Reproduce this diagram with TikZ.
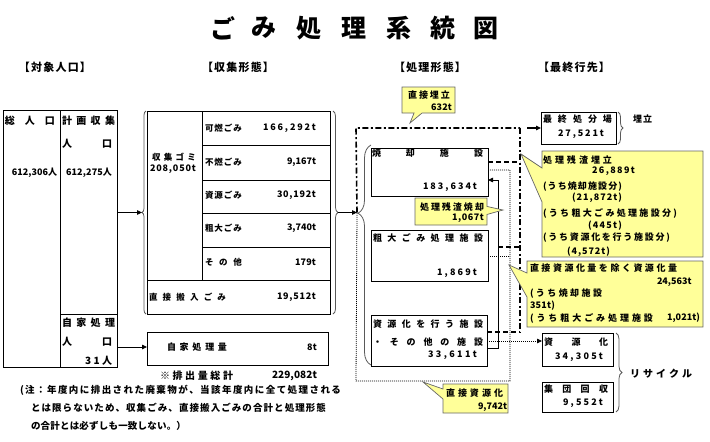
\documentclass[tikz,border=0pt]{standalone}
\usepackage{fontspec}
\setmainfont{Noto Sans CJK JP}
\usetikzlibrary{arrows.meta,decorations.pathreplacing,shapes.callouts}
\definecolor{yellowc}{RGB}{255,255,153}
\ExplSyntaxOn
\NewDocumentCommand{\sprd}{mm}{\makebox[#1][s]{\tl_map_inline:nn{#2}{##1\hfill}\unskip}}
\ExplSyntaxOff
\newcommand\lab[6]{%
  \pgfmathsetmacro\labw{#4-#3}%
  \node[lbl,font=\fontsize{#2}{#2}\selectfont\bfseries] (#1) at (#3,#5) {\sprd{\labw pt}{#6}};}
\newcommand\cellbox[5]{\node[cell,minimum width=#4pt-#2pt,minimum height=#5pt-#3pt] (#1) at (#2,#3) {};}
\begin{document}
\begin{tikzpicture}[x=1pt,y=-1pt,
  lbl/.style={inner sep=0pt,outer sep=0pt,anchor=west},
  cell/.style={draw,line width=0.8pt,inner sep=0pt,outer sep=0pt,anchor=north west},
  co/.style={rectangle callout,draw=black!60,fill=yellowc,line width=0.7pt,inner sep=0pt,outer sep=0pt,anchor=north west},
  dd/.style={line width=1.6pt,dash pattern=on 6pt off 2.5pt on 2pt off 2.5pt},
  ds/.style={line width=1.6pt,dash pattern=on 5pt off 3pt},
  dt/.style={line width=0.8pt,dash pattern=on 1pt off 1pt},
  arr/.style={-{Triangle[length=5pt,width=4.5pt]}},
  brc/.style={decorate,decoration={brace,amplitude=#1},draw=black!65,line width=0.8pt},
  ttl/.style={inner sep=0pt,font=\fontsize{25}{25}\selectfont\bfseries}]
\useasboundingbox (0,0) rectangle (710,442);
% title
\node[ttl] (ti1) at (223,28) {ご};
\node[ttl] (ti2) at (264,28) {み};
\node[ttl] (ti3) at (309,28) {処};
\node[ttl] (ti4) at (354,28) {理};
\node[ttl] (ti5) at (399,28) {系};
\node[ttl] (ti6) at (443,28) {統};
\node[ttl] (ti7) at (486,28) {図};
% headers
\lab{h1}{11}{19}{91}{67}{【対象人口】}
\lab{h2}{11}{202}{274}{67}{【収集形態】}
\lab{h3}{11}{394}{466}{67}{【処理形態】}
\lab{h4}{11}{538}{610}{67}{【最終行先】}
% boxes
\cellbox{popall}{3}{110}{60}{367}
\cellbox{popplan}{60}{110}{117}{314}
\cellbox{popself}{60}{314}{117}{367}
\cellbox{coll}{147}{111}{330}{314}
\cellbox{collg}{147}{111}{202}{280}
\cellbox{r1}{202}{111}{330}{145}
\cellbox{r2}{202}{145}{330}{180}
\cellbox{r3}{202}{180}{330}{213}
\cellbox{r4}{202}{213}{330}{247}
\cellbox{r5}{202}{247}{330}{280}
\cellbox{direct}{147}{280}{330}{314}
\cellbox{home}{147}{332}{328}{365}
\cellbox{inc}{371}{148}{488}{196}
\cellbox{bulky}{371}{230}{488}{281}
\cellbox{recy}{371}{315}{487}{366}
\cellbox{land}{541}{112}{616}{144}
\cellbox{res}{542}{333}{613}{366}
\cellbox{grp}{542}{382}{613}{412}
% braces
\draw[brc=4pt] (146,314) -- (146,111);
\draw[brc=5pt] (333,111) -- (333,314);
\draw[decorate,decoration={brace,amplitude=13pt,aspect=0.69},draw=black!65,line width=0.8pt] (371,365) -- (371,145);
\draw[brc=5pt] (618,112) -- (618,144);
\draw[brc=6pt] (616,333) -- (616,412);
\coordinate (b1tip) at (142,212.5);
\coordinate (b2tip) at (338,212.5);
\coordinate (pin) at (357,212.5);
% connectors
\draw[arr,line width=0.8pt] (popplan.east |- b1tip) -- (b1tip);
\draw[arr,line width=0.8pt] (popself.east |- 0,347) -- (home.west |- 0,347);
\draw[arr,line width=0.8pt] (b2tip) -- (pin);
\draw[dd] (pin) -- (356,128) -- (520,128);
\draw[dd] (520,128) -- (520,332);
\draw[arr,line width=1.2pt] (527,128) -- (land.west |- 0,128);
\draw[ds] (inc.east |- 0,162) -- (520,162);
\draw[ds] (498,247) -- (520,247);
\draw[ds] (recy.east |- 0,332) -- (520,332);
\draw[dt] (inc.east |- 0,170) -- (510,170) -- (510,381) -- (356,381) -- (pin);
\draw[dt] (bulky.east |- 0,256) -- (510,256);
\draw[dt,arr] (recy.east |- 0,341) -- (res.west |- 0,341);
\draw[line width=0.8pt,arr] (recy.east |- 0,348) -- (498,348) -- (498,180) -- (inc.east |- 0,180);
% callouts
\node[co,minimum width=53pt,minimum height=26pt,callout absolute pointer={(410,123)},callout pointer width=8pt] (cdirect) at (402,87) {};
\node[co,minimum width=72pt,minimum height=27pt,callout absolute pointer={(503,210)},callout pointer width=8pt] (cinc) at (415,198) {};
\node[co,minimum width=161pt,minimum height=106pt,callout absolute pointer={(521,154)},callout pointer width=34pt] (cland) at (542,151) {};
\node[co,minimum width=176pt,minimum height=66pt,callout absolute pointer={(509,265)},callout pointer width=24pt] (cres) at (527,261) {};
\node[co,minimum width=65pt,minimum height=29pt,callout absolute pointer={(423,382)},callout pointer width=10pt] (cdres) at (443,384) {};
% texts left
\lab{tA}{10}{5}{55}{121}{総人口}
\lab{tB}{10}{62}{115}{121}{計画収集}
\lab{tC}{10}{62}{112}{144}{人口}
\lab{tD}{9}{12}{57}{173}{612,306人}
\lab{tE}{9}{66}{112}{173}{612,275人}
\lab{tF}{10}{62}{115}{323}{自家処理}
\lab{tG}{10}{62}{112}{342}{人口}
\lab{tH}{10}{85}{112}{361}{31人}
% texts middle
\lab{tI}{8.5}{205}{242}{128}{可燃ごみ}
\lab{tJ}{9}{263}{316}{128}{166,292t}
\lab{tK}{8.5}{205}{242}{162}{不燃ごみ}
\lab{tL}{9}{287}{316}{162}{9,167t}
\lab{tM}{8.5}{205}{242}{195}{資源ごみ}
\lab{tN}{9}{277}{316}{195}{30,192t}
\lab{tO}{8.5}{205}{242}{228}{粗大ごみ}
\lab{tP}{9}{287}{316}{228}{3,740t}
\lab{tQ}{8.5}{205}{242}{262}{その他}
\lab{tR}{9}{295}{316}{262}{179t}
\lab{tS}{8.5}{149}{226}{297}{直接搬入ごみ}
\lab{tT}{9}{277}{316}{297}{19,512t}
\lab{tU}{8.5}{152}{196}{157}{収集ゴミ}
\lab{tV}{9}{150}{196}{169}{208,050t}
\lab{tW}{9}{167}{227}{347}{自家処理量}
\lab{tX}{9}{307}{317}{347}{8t}
\lab{tY}{10}{160}{233}{376}{※排出量総計}
\lab{tZ}{10}{272}{317}{376}{229,082t}
\lab{n1}{9.5}{20}{341}{390}{(注：年度内に排出された廃棄物が、当該年度内に全て処理される}
\lab{n2}{9.5}{31}{326}{408}{とは限らないため、収集ごみ、直接搬入ごみの合計と処理形態}
\lab{n3}{9.5}{31}{186}{426}{の合計とは必ずしも一致しない。）}
% processing
\lab{p1}{9}{372}{483}{153}{焼却施設}
\lab{p2}{9}{423}{477}{187}{183,634t}
\lab{p3}{9}{373}{483}{238}{粗大ごみ処理施設}
\lab{p4}{9}{437}{477}{273}{1,869t}
\lab{p5}{9}{373}{483}{324}{資源化を行う施設}
\lab{p6}{9}{373}{483}{342}{・その他の施設}
\lab{p7}{9}{428}{477}{355}{33,611t}
% callout texts
\lab{c1a}{9}{408}{450}{95}{直接埋立}
\lab{c1b}{9}{431}{452}{107}{632t}
\lab{c2a}{9}{420}{484}{207}{処理残渣焼却}
\lab{c2b}{9}{452}{484}{218}{1,067t}
\lab{c3a}{9}{543}{612}{160}{処理残渣埋立}
\lab{c3b}{9}{592}{635}{171}{26,889t}
\lab{c3c}{9}{543}{622}{187}{(うち焼却施設分)}
\lab{c3d}{9}{572}{622}{198}{(21,872t)}
\lab{c3e}{9}{543}{677}{213}{(うち粗大ごみ処理施設分)}
\lab{c3f}{9}{588}{622}{226}{(445t)}
\lab{c3g}{9}{543}{670}{238}{(うち資源化を行う施設分)}
\lab{c3h}{9}{567}{610}{252}{(4,572t)}
\lab{c4a}{9}{530}{677}{268}{直接資源化量を除く資源化量}
\lab{c4b}{9}{657}{690}{282}{24,563t}
\lab{c4c}{9}{530}{602}{294}{(うち焼却施設}
\lab{c4d}{9}{530}{555}{306}{351t)}
\lab{c4e}{9}{530}{653}{318}{(うち粗大ごみ処理施設}
\lab{c4f}{9}{667}{700}{318}{1,021t)}
\lab{c5a}{9}{446}{503}{393}{直接資源化}
\lab{c5b}{9}{478}{505}{407}{9,742t}
% final
\lab{f1}{9}{543}{612}{119}{最終処分場}
\lab{f2}{9}{558}{604}{134}{27,521t}
\lab{f3}{9}{633}{652}{119}{埋立}
\lab{f4}{9}{544}{608}{342}{資源化}
\lab{f5}{9}{555}{603}{357}{34,305t}
\lab{f6}{9}{544}{608}{389}{集団回収}
\lab{f7}{9}{563}{603}{403}{9,552t}
\lab{f8}{10}{630}{692}{374}{リサイクル}
\end{tikzpicture}
\end{document}
